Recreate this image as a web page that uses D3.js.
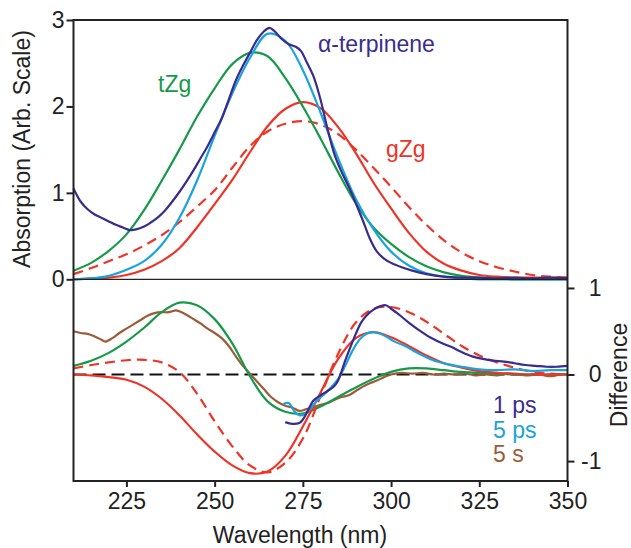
<!DOCTYPE html>
<html>
<head>
<meta charset="utf-8">
<script src="https://cdnjs.cloudflare.com/ajax/libs/d3/7.8.5/d3.min.js"></script>
<style>
  body { margin: 0; background: #fff; }
  svg text { font-family: "Liberation Sans", Arial, sans-serif; }
</style>
</head>
<body>
<svg id="chart" width="631" height="548"></svg>
<script>
// calculated spectra share one wavelength grid
var calcWl = [210,215,220,225,230,235,240,245,250,255,260,265,270,275,280,285,290,295,300,305,310,315,320,325,330,335,340,345,350];

// top panel: absorption
var tZgAbs    = [0.10,0.19,0.33,0.52,0.80,1.14,1.50,1.88,2.21,2.49,2.62,2.58,2.33,2.00,1.63,1.24,0.88,0.60,0.41,0.26,0.15,0.08,0.04,0.02,0.01,0.00,0.00,0.00,0.00];
var terpCalc  = [0.00,0.01,0.04,0.11,0.21,0.40,0.71,1.14,1.66,2.15,2.56,2.84,2.76,2.42,1.93,1.40,0.93,0.58,0.32,0.16,0.07,0.03,0.01,0.00,0.00,0.00,0.00,0.00,0.00];
var gZgAbs    = [0.00,0.01,0.02,0.05,0.11,0.21,0.36,0.60,0.87,1.15,1.47,1.77,1.97,2.05,1.98,1.76,1.46,1.12,0.82,0.54,0.32,0.18,0.10,0.05,0.03,0.02,0.02,0.02,0.02];
var gZgAbsDash= [0.06,0.13,0.21,0.29,0.39,0.51,0.66,0.84,1.03,1.29,1.54,1.71,1.80,1.83,1.79,1.68,1.50,1.29,1.07,0.84,0.63,0.45,0.31,0.21,0.14,0.09,0.05,0.03,0.02];

var terpWl  = [210,212,214,216,218,220,222,224,226,228,230,232,234,236,238,240,242,244,246,248,250,252,254,256,258,260,262,264,265.5,267,269,271,273,274.5,276,278,280,282,284,286,288,290,292,294,296,298,300,303,306,310,315,320,325,330,335,340,345,350];
var terpAbs = [1.05,0.90,0.81,0.75,0.71,0.67,0.63,0.60,0.57,0.58,0.61,0.66,0.72,0.80,0.90,1.01,1.13,1.26,1.40,1.54,1.70,1.86,2.08,2.30,2.47,2.62,2.77,2.87,2.91,2.87,2.78,2.72,2.69,2.64,2.52,2.35,2.08,1.74,1.44,1.24,1.07,0.88,0.68,0.47,0.32,0.24,0.19,0.14,0.10,0.06,0.03,0.02,0.02,0.01,0.02,0.01,0.02,0.01];

// bottom panel: difference spectra
var tZgDiff     = [0.10,0.16,0.25,0.38,0.54,0.72,0.83,0.80,0.64,0.36,-0.02,-0.31,-0.43,-0.45,-0.37,-0.26,-0.15,-0.05,0.03,0.07,0.07,0.05,0.03,0.02,0.01,0.00,0.00,0.00,0.00];
var gZgDiff     = [0.00,-0.01,-0.03,-0.06,-0.14,-0.28,-0.47,-0.69,-0.89,-1.05,-1.14,-1.12,-0.94,-0.60,-0.21,0.18,0.42,0.49,0.43,0.33,0.22,0.13,0.08,0.04,0.02,0.01,0.00,0.00,0.00];
var gZgDiffDash = [0.07,0.11,0.14,0.165,0.17,0.14,0.03,-0.22,-0.54,-0.83,-1.05,-1.13,-1.02,-0.74,-0.25,0.24,0.60,0.76,0.78,0.72,0.61,0.47,0.33,0.22,0.14,0.08,0.03,0.01,0.00];

var ps1Wl   = [270,272,274,275,276,277,278,280,282,284,285,286,287,288.5,290,291.5,293,295,297,298.5,300,302,305,308,311,314,317,320,323,326,329,332,335,338,341,344,347,350];
var ps1Diff = [-0.55,-0.57,-0.56,-0.52,-0.45,-0.37,-0.30,-0.24,-0.19,-0.13,-0.07,0.04,0.16,0.32,0.47,0.60,0.68,0.75,0.79,0.80,0.76,0.70,0.60,0.51,0.43,0.37,0.32,0.26,0.21,0.18,0.16,0.15,0.13,0.11,0.10,0.09,0.09,0.10];

var ps5Wl   = [269.5,271,272.5,274,275.5,277,279,281,283,285,287,289,291,293,295,297,299,301,304,307,310,313,316,320,325,330,335,340,345,350];
var ps5Diff = [-0.34,-0.33,-0.42,-0.47,-0.46,-0.40,-0.30,-0.23,-0.15,-0.05,0.10,0.27,0.40,0.47,0.49,0.47,0.43,0.38,0.33,0.26,0.20,0.15,0.12,0.09,0.06,0.05,0.06,0.04,0.05,0.05];

var s5Wl   = [210,212,214,216,218,219,221,223,225,227,229,231,233,235,237,239,240,242,244,246,248,250,252,254,256,258,260,262,264,266,268,270,272,274,276,278,280,282,284,286,288,290,292,294,296,298,300,303,306,309,312,315,318,321,324,327,330,333,336,339,342,345,348,350];
var s5Diff = [0.50,0.48,0.47,0.44,0.40,0.38,0.42,0.48,0.53,0.58,0.63,0.68,0.71,0.72,0.72,0.74,0.73,0.69,0.64,0.59,0.53,0.48,0.42,0.33,0.21,0.10,0.01,-0.08,-0.17,-0.26,-0.32,-0.36,-0.38,-0.42,-0.40,-0.38,-0.35,-0.33,-0.29,-0.26,-0.24,-0.19,-0.14,-0.10,-0.07,-0.03,0.00,0.02,0.01,0.02,0.00,0.01,0.00,0.01,-0.01,0.00,-0.01,0.01,0.00,-0.01,0.00,-0.02,0.00,0.00];

var xTicks = [225,250,275,300,325,350];
var absTicks = [0,1,2,3];
var diffTicks = [-1,0,1];

var indigo = "#3a2c8e", cyan = "#1ba3de", green = "#169a4a", red = "#ee3426", brown = "#9c5b3a";

var svg = d3.select("#chart"),
    plotL = 73.5, plotR = 567.5, plotT = 20, plotSep = 279.3, plotB = 481;

svg.append("rect").attr("width", 631).attr("height", 548).attr("fill", "#fff");

var x = d3.scaleLinear().domain([210, 350]).range([plotL, plotR]);
var yA = d3.scaleLinear().domain([0, 3]).range([plotSep, plotT]);
var yD = d3.scaleLinear().domain([-1.23, 1.1]).range([plotB, plotSep]);

function pairs(wl, v) { return wl.map(function(w, i) { return [w, v[i]]; }); }

function draw(y, wl, v, color, dash) {
  var line = d3.line()
      .x(function(d) { return x(d[0]); })
      .y(function(d) { return y(d[1]); })
      .curve(d3.curveCatmullRom.alpha(0.5));
  svg.append("path")
      .datum(pairs(wl, v))
      .attr("d", line)
      .attr("fill", "none")
      .attr("stroke", color)
      .attr("stroke-width", 2.2)
      .attr("stroke-dasharray", dash ? "10,6" : null);
}

// zero line for differences
svg.append("line")
    .attr("x1", plotL).attr("x2", plotR)
    .attr("y1", yD(0)).attr("y2", yD(0))
    .attr("stroke", "#111").attr("stroke-width", 1.8)
    .attr("stroke-dasharray", "13,6");

// top panel
draw(yA, calcWl, gZgAbsDash, red, true);
draw(yA, calcWl, gZgAbs, red);
draw(yA, calcWl, tZgAbs, green);
draw(yA, calcWl, terpCalc, cyan);
draw(yA, terpWl, terpAbs, indigo);

// bottom panel
draw(yD, s5Wl, s5Diff, brown);
draw(yD, calcWl, tZgDiff, green);
draw(yD, calcWl, gZgDiffDash, red, true);
draw(yD, calcWl, gZgDiff, red);
draw(yD, ps5Wl, ps5Diff, cyan);
draw(yD, ps1Wl, ps1Diff, indigo);

// frame and panel separator
svg.append("rect")
    .attr("x", plotL).attr("y", plotT)
    .attr("width", plotR - plotL).attr("height", plotB - plotT)
    .attr("fill", "none").attr("stroke", "#222").attr("stroke-width", 2);
svg.append("line")
    .attr("x1", plotL).attr("x2", plotR)
    .attr("y1", plotSep).attr("y2", plotSep)
    .attr("stroke", "#222").attr("stroke-width", 1.2);

// axes
var fmt = function(d) { return String(d); };
var axL = svg.append("g").attr("transform", "translate(" + plotL + ",0)")
    .call(d3.axisLeft(yA).tickValues(absTicks).tickSize(7).tickPadding(2).tickSizeOuter(0).tickFormat(fmt));
var axB = svg.append("g").attr("transform", "translate(0," + plotB + ")")
    .call(d3.axisBottom(x).tickValues(xTicks).tickSize(6).tickPadding(6).tickSizeOuter(0).tickFormat(fmt));
var axR = svg.append("g").attr("transform", "translate(" + plotR + ",0)")
    .call(d3.axisRight(yD).tickValues(diffTicks).tickSize(7).tickPadding(27).tickSizeOuter(0).tickFormat(fmt));
axR.selectAll("text").attr("text-anchor", "end");

[axL, axB, axR].forEach(function(a) {
  a.select(".domain").remove();
  a.selectAll("line").attr("stroke", "#222").attr("stroke-width", 2);
  a.selectAll("text").attr("font-size", 23).attr("fill", "#222")
    .attr("font-family", "Liberation Sans, Arial, sans-serif");
});

// axis titles
svg.append("text")
    .attr("transform", "translate(30,149) rotate(-90)")
    .attr("text-anchor", "middle").attr("font-size", 23).attr("fill", "#222")
    .text("Absorption (Arb. Scale)");
svg.append("text")
    .attr("transform", "translate(627,375) rotate(-90)")
    .attr("text-anchor", "middle").attr("font-size", 23).attr("fill", "#222")
    .text("Difference");
svg.append("text")
    .attr("x", 300).attr("y", 543)
    .attr("text-anchor", "middle").attr("font-size", 23).attr("fill", "#222")
    .text("Wavelength (nm)");

// curve labels
var labels = [
  {t: "\u03b1-terpinene", x: 318, y: 52, c: indigo},
  {t: "tZg", x: 158, y: 92, c: green},
  {t: "gZg", x: 386, y: 157, c: red},
  {t: "1 ps", x: 493, y: 413, c: indigo},
  {t: "5 ps", x: 493, y: 438, c: cyan},
  {t: "5 s", x: 493, y: 462, c: brown}
];
svg.selectAll(".lab").data(labels).enter().append("text")
    .attr("class", "lab")
    .attr("x", function(d) { return d.x; })
    .attr("y", function(d) { return d.y; })
    .attr("font-size", 23)
    .attr("fill", function(d) { return d.c; })
    .text(function(d) { return d.t; });
</script>
</body>
</html>
